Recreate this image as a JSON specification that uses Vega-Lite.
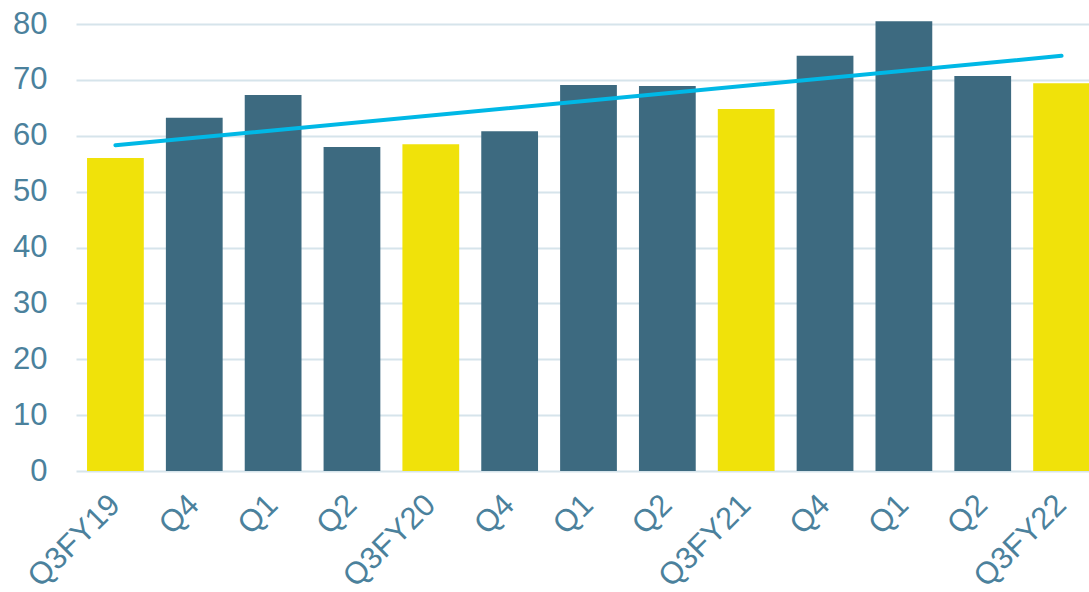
{
  "$schema": "https://vega.github.io/schema/vega-lite/v6.json",
  "autosize": {"type": "none"},
  "padding": {"left": 76, "top": 24, "right": 0, "bottom": 121},
  "width": 1025,
  "height": 447,
  "background": "white",
  "config": {
    "view": {"stroke": null},
    "font": "Liberation Sans",
    "axis": {"labelFont": "Liberation Sans", "labelColor": "#4b819c", "labelFontSize": 31}
  },
  "data": {
    "values": [
      {"key": "Q3FY19", "quarter": "Q3", "value": 56.0, "trend": 58.3},
      {"key": "Q4_1", "quarter": "other", "value": 63.2},
      {"key": "Q1_1", "quarter": "other", "value": 67.3},
      {"key": "Q2_1", "quarter": "other", "value": 58.0},
      {"key": "Q3FY20", "quarter": "Q3", "value": 58.5},
      {"key": "Q4_2", "quarter": "other", "value": 60.8},
      {"key": "Q1_2", "quarter": "other", "value": 69.1},
      {"key": "Q2_2", "quarter": "other", "value": 68.9},
      {"key": "Q3FY21", "quarter": "Q3", "value": 64.8},
      {"key": "Q4_3", "quarter": "other", "value": 74.3},
      {"key": "Q1_3", "quarter": "other", "value": 80.5},
      {"key": "Q2_3", "quarter": "other", "value": 70.7},
      {"key": "Q3FY22", "quarter": "Q3", "value": 69.4, "trend": 74.3}
    ]
  },
  "encoding": {
    "x": {
      "field": "key",
      "type": "ordinal",
      "sort": null,
      "scale": {"paddingInner": 0.28, "paddingOuter": 0.14},
      "axis": {
        "title": null,
        "labelAngle": -45,
        "labelAlign": "right",
        "labelBaseline": "middle",
        "labelExpr": "split(datum.value, '_')[0]",
        "ticks": false,
        "domain": false,
        "labelPadding": 29
      }
    }
  },
  "layer": [
    {
      "mark": {"type": "bar"},
      "encoding": {
        "y": {
          "field": "value",
          "type": "quantitative",
          "scale": {"domain": [0, 80], "nice": false},
          "axis": {
            "title": null,
            "values": [0, 10, 20, 30, 40, 50, 60, 70, 80],
            "labelOverlap": false,
            "ticks": false,
            "domain": false,
            "grid": true,
            "gridColor": "#d6e4eb",
            "gridWidth": 2,
            "labelPadding": 29
          }
        },
        "color": {
          "field": "quarter",
          "type": "nominal",
          "scale": {"domain": ["Q3", "other"], "range": ["#f0e20a", "#3d6a80"]},
          "legend": null
        }
      }
    },
    {
      "transform": [{"filter": "isValid(datum.trend)"}],
      "mark": {"type": "line", "color": "#00b8e6", "strokeWidth": 4, "strokeCap": "round"},
      "encoding": {
        "y": {
          "field": "trend",
          "type": "quantitative",
          "axis": {
            "title": null,
            "values": [0, 10, 20, 30, 40, 50, 60, 70, 80],
            "labelOverlap": false,
            "ticks": false,
            "domain": false,
            "grid": true,
            "gridColor": "#d6e4eb",
            "gridWidth": 2,
            "labelPadding": 29
          }
        }
      }
    }
  ]
}
